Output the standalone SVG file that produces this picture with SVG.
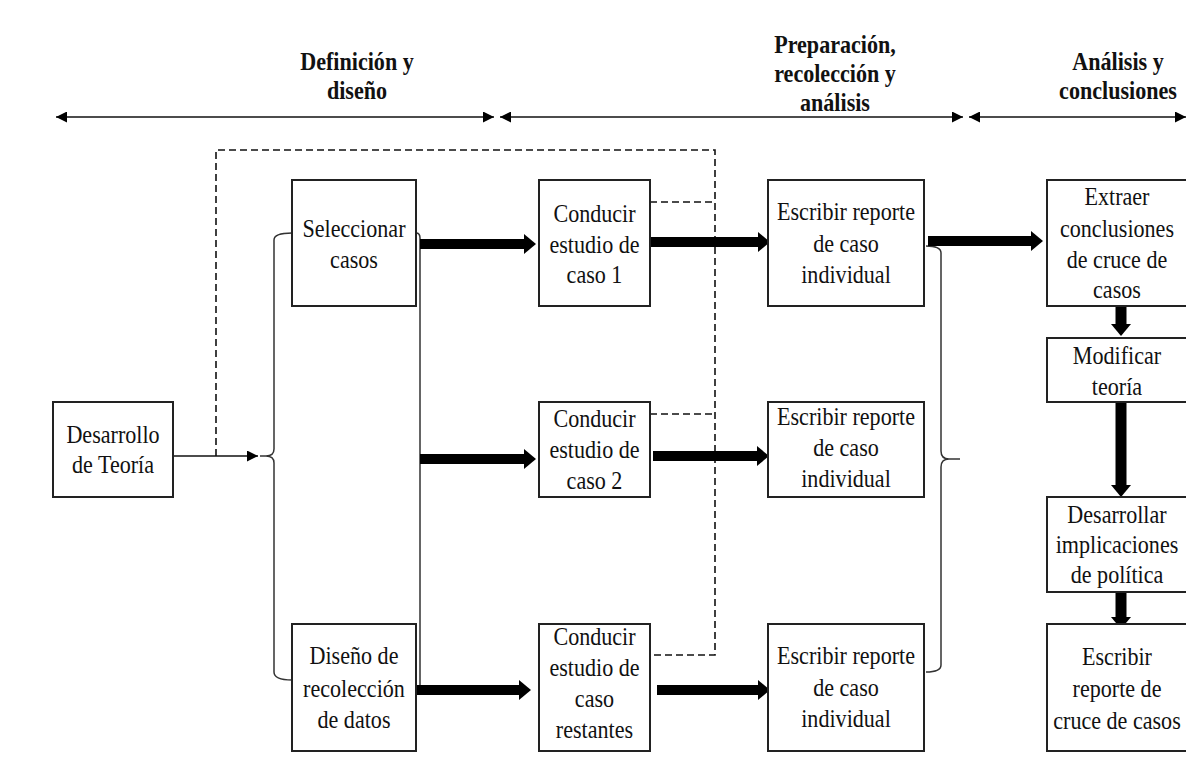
<svg xmlns="http://www.w3.org/2000/svg" width="1186" height="776" viewBox="0 0 1186 776">
  <style>
    .bg { fill: #ffffff; }
    .box { fill: #ffffff; stroke: #222222; stroke-width: 2; }
    .t { font-family: "Liberation Serif", "Times New Roman", serif; font-size: 26px; text-anchor: middle; fill: #111111; transform-box: fill-box; transform-origin: center; transform: scaleX(0.85); }
    .h { font-weight: bold; }
    .thin { fill: none; stroke: #111111; stroke-width: 1.6; }
    .brace { fill: none; stroke: #333333; stroke-width: 1.5; }
    .dash { fill: none; stroke: #111111; stroke-width: 1.6; stroke-dasharray: 7 4; }
    .thick { fill: none; stroke: #000000; stroke-width: 10; }
    .thickv { fill: none; stroke: #000000; stroke-width: 11; }
  </style>
  <defs>
    <marker id="small" viewBox="0 0 10 10" refX="10" refY="5" markerUnits="userSpaceOnUse" markerWidth="11" markerHeight="11" orient="auto-start-reverse">
      <path d="M0,0 L10,5 L0,10 Z" fill="#000"/>
    </marker>
    <marker id="big" viewBox="0 0 12 20" refX="0" refY="10" markerUnits="userSpaceOnUse" markerWidth="12" markerHeight="20" orient="auto">
      <path d="M0,0 L12,10 L0,20 Z" fill="#000"/>
    </marker>
  </defs>
  <rect class="bg" x="0" y="0" width="1186" height="776"/>

  <!-- phase headers -->
  <g id="phase-headers">
    <text class="t h" x="357" y="70">Definición y</text>
    <text class="t h" x="357" y="99">diseño</text>
    <text class="t h" x="835" y="53">Preparación,</text>
    <text class="t h" x="835" y="82">recolección y</text>
    <text class="t h" x="835" y="111">análisis</text>
    <text class="t h" x="1118" y="70">Análisis y</text>
    <text class="t h" x="1118" y="99">conclusiones</text>
  </g>

  <!-- connectors -->
  <g id="connectors">
    <!-- phase spans -->
    <line class="thin" x1="56" y1="117" x2="494" y2="117" marker-start="url(#small)" marker-end="url(#small)"/>
    <line class="thin" x1="500" y1="117" x2="963" y2="117" marker-start="url(#small)" marker-end="url(#small)"/>
    <line class="thin" x1="969" y1="117" x2="1186" y2="117" marker-start="url(#small)" marker-end="url(#small)"/>

    <!-- feedback loop (dashed) -->
    <path class="dash" d="M216,456 V150 H715 V655 H650"/>
    <path class="dash" d="M650,202 H715"/>
    <path class="dash" d="M650,414 H715"/>

    <!-- theory to design -->
    <line class="thin" x1="173" y1="456" x2="258" y2="456" marker-end="url(#small)"/>

    <!-- left brace joining the two design steps -->
    <path class="brace" d="M292,233 Q274,233 274,240 V449 Q274,456 266,456 H260 M266,456 Q274,456 274,463 V672 Q274,680 292,680"/>
    <!-- right rail from design steps -->
    <path class="brace" d="M416,233 Q420,233 420,238 V690"/>

    <!-- right brace gathering individual reports -->
    <path class="brace" d="M926,246 Q941,246 941,253 V451 Q941,459 949,459 H960 M949,459 Q941,459 941,467 V665 Q941,672 926,672"/>

    <!-- thick flow arrows -->
    <line class="thick" x1="420" y1="244" x2="524" y2="244" marker-end="url(#big)"/>
    <line class="thick" x1="648" y1="242" x2="758" y2="242" marker-end="url(#big)"/>
    <line class="thick" x1="928" y1="241" x2="1031" y2="241" marker-end="url(#big)"/>
    <line class="thick" x1="420" y1="459" x2="524" y2="459" marker-end="url(#big)"/>
    <line class="thick" x1="653" y1="456" x2="757" y2="456" marker-end="url(#big)"/>
    <line class="thick" x1="416" y1="690" x2="519" y2="690" marker-end="url(#big)"/>
    <line class="thick" x1="657" y1="690" x2="758" y2="690" marker-end="url(#big)"/>
    <line class="thickv" x1="1121" y1="306" x2="1121" y2="324" marker-end="url(#big)"/>
    <line class="thickv" x1="1121" y1="402" x2="1121" y2="485" marker-end="url(#big)"/>
    <line class="thickv" x1="1121" y1="592" x2="1121" y2="617" marker-end="url(#big)"/>
  </g>

  <!-- nodes -->
  <g id="n-desarrollo-teoria">
    <rect class="box" x="53" y="402" width="120" height="95"/>
    <text class="t" x="113" y="443">Desarrollo</text>
    <text class="t" x="113" y="473">de Teoría</text>
  </g>
  <g id="n-seleccionar-casos">
    <rect class="box" x="292" y="180" width="124" height="126"/>
    <text class="t" x="354" y="237">Seleccionar</text>
    <text class="t" x="354" y="268">casos</text>
  </g>
  <g id="n-diseno-recoleccion">
    <rect class="box" x="292" y="624" width="124" height="127"/>
    <text class="t" x="354" y="664">Diseño de</text>
    <text class="t" x="354" y="697">recolección</text>
    <text class="t" x="354" y="728">de datos</text>
  </g>
  <g id="n-conducir-1">
    <rect class="box" x="539" y="180" width="111" height="126"/>
    <text class="t" x="594.5" y="222">Conducir</text>
    <text class="t" x="594.5" y="253">estudio de</text>
    <text class="t" x="594.5" y="283">caso 1</text>
  </g>
  <g id="n-conducir-2">
    <rect class="box" x="539" y="402" width="111" height="95"/>
    <text class="t" x="594.5" y="427">Conducir</text>
    <text class="t" x="594.5" y="458">estudio de</text>
    <text class="t" x="594.5" y="489">caso 2</text>
  </g>
  <g id="n-conducir-restantes">
    <rect class="box" x="539" y="624" width="111" height="127"/>
    <text class="t" x="594.5" y="645">Conducir</text>
    <text class="t" x="594.5" y="676">estudio de</text>
    <text class="t" x="594.5" y="707">caso</text>
    <text class="t" x="594.5" y="738">restantes</text>
  </g>
  <g id="n-reporte-1">
    <rect class="box" x="768" y="180" width="156" height="126"/>
    <text class="t" x="846" y="220">Escribir reporte</text>
    <text class="t" x="846" y="252">de caso</text>
    <text class="t" x="846" y="283">individual</text>
  </g>
  <g id="n-reporte-2">
    <rect class="box" x="768" y="402" width="156" height="95"/>
    <text class="t" x="846" y="425">Escribir reporte</text>
    <text class="t" x="846" y="456">de caso</text>
    <text class="t" x="846" y="487">individual</text>
  </g>
  <g id="n-reporte-3">
    <rect class="box" x="768" y="624" width="156" height="127"/>
    <text class="t" x="846" y="664">Escribir reporte</text>
    <text class="t" x="846" y="696">de caso</text>
    <text class="t" x="846" y="727">individual</text>
  </g>
  <g id="n-extraer-conclusiones">
    <rect class="box" x="1047" y="180" width="140" height="126"/>
    <text class="t" x="1117" y="205">Extraer</text>
    <text class="t" x="1117" y="237">conclusiones</text>
    <text class="t" x="1117" y="268">de cruce de</text>
    <text class="t" x="1117" y="298">casos</text>
  </g>
  <g id="n-modificar-teoria">
    <rect class="box" x="1047" y="338" width="140" height="64"/>
    <text class="t" x="1117" y="364">Modificar</text>
    <text class="t" x="1117" y="395">teoría</text>
  </g>
  <g id="n-implicaciones">
    <rect class="box" x="1047" y="497" width="140" height="95"/>
    <text class="t" x="1117" y="523">Desarrollar</text>
    <text class="t" x="1117" y="553">implicaciones</text>
    <text class="t" x="1117" y="583">de política</text>
  </g>
  <g id="n-reporte-cruce">
    <rect class="box" x="1047" y="624" width="140" height="127"/>
    <text class="t" x="1117" y="665">Escribir</text>
    <text class="t" x="1117" y="697">reporte de</text>
    <text class="t" x="1117" y="729">cruce de casos</text>
  </g>
</svg>
